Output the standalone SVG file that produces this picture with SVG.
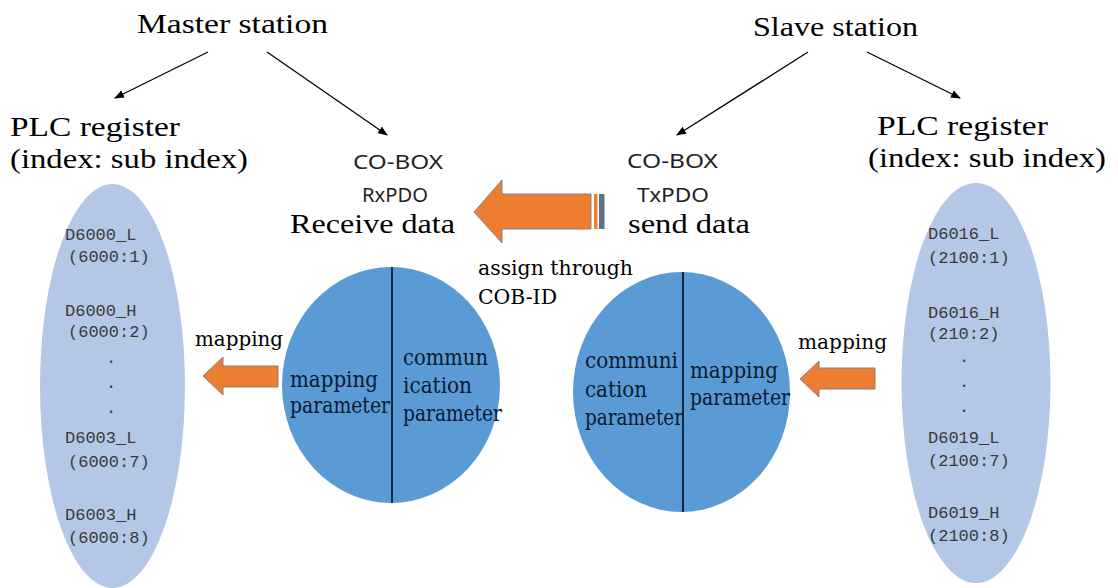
<svg xmlns="http://www.w3.org/2000/svg" width="1118" height="588" viewBox="0 0 1118 588">
<style>
.ser{font-family:"Liberation Serif","Times New Roman",serif;fill:#000}
.title{font-size:27px}
.big{font-size:28px}
.sans{font-family:"Noto Sans","Liberation Sans",sans-serif;font-size:20px;fill:#222}
.cir{font-family:"DejaVu Serif","Liberation Serif",serif;font-size:22px;fill:#0b1a30}
.mid{font-family:"DejaVu Serif","Liberation Serif",serif;font-size:20px;fill:#000}
.reg{font-family:"Liberation Mono","Courier New",monospace;font-size:17px;fill:#3a3a3a}
.ell{fill:#B4C7E7}
.circ{fill:#5B9BD5}
.div{stroke:#0f2740;stroke-width:2}
.conn{stroke:#000;stroke-width:1.3;fill:none;marker-end:url(#ah)}
.oarrow{fill:#ED7D31;stroke:#8a7f80;stroke-width:1}
</style>
<defs>
<marker id="ah" markerWidth="10" markerHeight="8" refX="9" refY="4" orient="auto" markerUnits="userSpaceOnUse">
<path d="M0,0 L10,4 L0,8 Z" fill="#000"/>
</marker>
</defs>
<rect width="1118" height="588" fill="#fff"/>

<g id="master-station"><text class="ser title" x="137" y="33" textLength="191" lengthAdjust="spacingAndGlyphs">Master station</text></g>
<g id="slave-station"><text class="ser title" x="753" y="36" textLength="165" lengthAdjust="spacingAndGlyphs">Slave station</text></g>

<g id="left-plc-label">
<text class="ser big" x="10" y="136" textLength="170" lengthAdjust="spacingAndGlyphs">PLC register</text>
<text class="ser big" x="10" y="168" textLength="238" lengthAdjust="spacingAndGlyphs">(index: sub index)</text>
</g>
<g id="right-plc-label">
<text class="ser big" x="877" y="135" textLength="171" lengthAdjust="spacingAndGlyphs">PLC register</text>
<text class="ser big" x="868" y="167" textLength="238" lengthAdjust="spacingAndGlyphs">(index: sub index)</text>
</g>

<g id="rx-label">
<text class="sans" x="353" y="169" textLength="90" lengthAdjust="spacingAndGlyphs">CO-BOX</text>
<text class="sans" x="362" y="202" textLength="66" lengthAdjust="spacingAndGlyphs">RxPDO</text>
<text class="ser big" x="290" y="233" textLength="165" lengthAdjust="spacingAndGlyphs">Receive data</text>
</g>
<g id="tx-label">
<text class="sans" x="627" y="168" textLength="91" lengthAdjust="spacingAndGlyphs">CO-BOX</text>
<text class="sans" x="637" y="202" textLength="72" lengthAdjust="spacingAndGlyphs">TxPDO</text>
<text class="ser big" x="628" y="233" textLength="122" lengthAdjust="spacingAndGlyphs">send data</text>
</g>

<g id="left-register">
<ellipse class="ell" cx="112.5" cy="386" rx="72.5" ry="202"/>
<text class="reg" x="65" y="240">D6000_L</text>
<text class="reg" x="68" y="262">(6000:1)</text>
<text class="reg" x="65" y="316">D6000_H</text>
<text class="reg" x="68" y="337">(6000:2)</text>
<text class="reg" x="106" y="363">.</text>
<text class="reg" x="106" y="388">.</text>
<text class="reg" x="106" y="413">.</text>
<text class="reg" x="65" y="443">D6003_L</text>
<text class="reg" x="68" y="467">(6000:7)</text>
<text class="reg" x="65" y="520">D6003_H</text>
<text class="reg" x="68" y="543">(6000:8)</text>
</g>

<g id="right-register">
<ellipse class="ell" cx="976" cy="383" rx="74.5" ry="200"/>
<text class="reg" x="928" y="239">D6016_L</text>
<text class="reg" x="928" y="263">(2100:1)</text>
<text class="reg" x="928" y="318">D6016_H</text>
<text class="reg" x="928" y="339">(210:2)</text>
<text class="reg" x="959" y="362">.</text>
<text class="reg" x="959" y="387">.</text>
<text class="reg" x="959" y="412">.</text>
<text class="reg" x="928" y="443">D6019_L</text>
<text class="reg" x="928" y="466">(2100:7)</text>
<text class="reg" x="928" y="518">D6019_H</text>
<text class="reg" x="928" y="541">(2100:8)</text>
</g>

<g id="rx-pdo-circle">
<ellipse class="circ" cx="391" cy="385" rx="109" ry="118"/>
<line class="div" x1="392" y1="267" x2="392" y2="503"/>
<text class="cir" x="290" y="387" textLength="88" lengthAdjust="spacingAndGlyphs">mapping</text>
<text class="cir" x="290" y="413" textLength="100" lengthAdjust="spacingAndGlyphs">parameter</text>
<text class="cir" x="403" y="365" textLength="85" lengthAdjust="spacingAndGlyphs">commun</text>
<text class="cir" x="403" y="393" textLength="69" lengthAdjust="spacingAndGlyphs">ication</text>
<text class="cir" x="403" y="421" textLength="99" lengthAdjust="spacingAndGlyphs">parameter</text>
</g>

<g id="tx-pdo-circle">
<ellipse class="circ" cx="681.5" cy="392" rx="108.5" ry="120"/>
<line class="div" x1="683" y1="272" x2="683" y2="512"/>
<text class="cir" x="585" y="368" textLength="93" lengthAdjust="spacingAndGlyphs">communi</text>
<text class="cir" x="585" y="397" textLength="62" lengthAdjust="spacingAndGlyphs">cation</text>
<text class="cir" x="585" y="425" textLength="98" lengthAdjust="spacingAndGlyphs">parameter</text>
<text class="cir" x="690" y="378" textLength="88" lengthAdjust="spacingAndGlyphs">mapping</text>
<text class="cir" x="690" y="405" textLength="100" lengthAdjust="spacingAndGlyphs">parameter</text>
</g>

<g id="cob-id-label">
<text class="mid" x="478" y="275" textLength="155" lengthAdjust="spacingAndGlyphs">assign through</text>
<text class="mid" x="478" y="304" textLength="79" lengthAdjust="spacingAndGlyphs">COB-ID</text>
</g>

<g id="connectors">
<line class="conn" x1="208" y1="52" x2="115" y2="98"/>
<line class="conn" x1="267" y1="52" x2="387" y2="135"/>
<line class="conn" x1="808" y1="52" x2="677" y2="135"/>
<line class="conn" x1="867" y1="52" x2="960" y2="98"/>

<path class="oarrow" d="M474,212 L502,180 L502,194 L591,194 L591,229 L502,229 L502,243 Z"/>
<rect x="594" y="194" width="3.5" height="35" fill="#ED7D31"/>
<rect x="599" y="194" width="5.5" height="35" fill="#5d7389"/>

<path class="oarrow" d="M203,376 L223,357 L223,366 L278,366 L278,387 L223,387 L223,395 Z"/>
<text class="mid" x="195" y="346" textLength="88" lengthAdjust="spacingAndGlyphs">mapping</text>

<path class="oarrow" d="M800,379 L819,361 L819,368 L875,368 L875,389 L819,389 L819,397 Z"/>
<text class="mid" x="798" y="349" textLength="89" lengthAdjust="spacingAndGlyphs">mapping</text>
</g>
</svg>
